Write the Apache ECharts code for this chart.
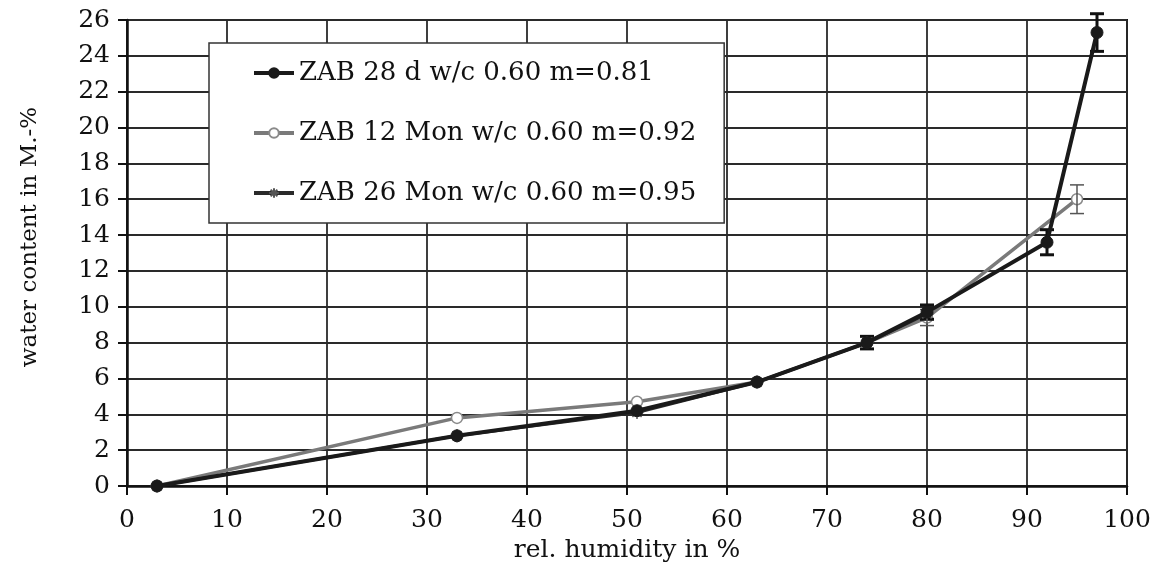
<!DOCTYPE html>
<html>
<head>
<meta charset="utf-8">
<style>
  html, body { margin: 0; padding: 0; background: #fff; }
  #chart { width: 1154px; height: 569px; }
</style>
<script src="https://cdn.jsdelivr.net/npm/echarts@6/dist/echarts.min.js"></script>
</head>
<body>
<div id="chart"></div>
<script>
// Sorption isotherms: relative humidity (%) vs. water content (M.-%)
const seriesNames = [
  'ZAB 28 d w/c 0.60 m=0.81',
  'ZAB 12 Mon w/c 0.60 m=0.92',
  'ZAB 26 Mon w/c 0.60 m=0.95'
];

const rh28d = [3, 33, 51, 63, 74, 80, 92, 97];
const water28d = [0, 2.8, 4.2, 5.8, 8.0, 9.7, 13.6, 25.3];
const err28d = [0, 0, 0, 0, 0.35, 0.4, 0.7, 1.05];

const rh12m = [3, 33, 51, 63, 74, 80, 95];
const water12m = [0, 3.8, 4.7, 5.8, 8.0, 9.4, 16.0];
const err12m = [0, 0, 0, 0, 0, 0.45, 0.8];

const rh26m = [3, 33, 51, 63, 74, 80];
const water26m = [0, 2.8, 4.1, 5.8, 8.0, 9.6];

const xTicks = { min: 0, max: 100, interval: 10 };
const yTicks = { min: 0, max: 26, interval: 2 };

const serif = '"DejaVu Serif", "Liberation Serif", serif';
const asterisk = 'path://M0,-6L0,6M-6,0L6,0M-4.2,-4.2L4.2,4.2M-4.2,4.2L4.2,-4.2';

function pairs(xs, ys) { return xs.map((x, i) => [x, ys[i]]); }
function errRows(xs, ys, es) {
  return xs.map((x, i) => [x, ys[i] - es[i], ys[i] + es[i]]).filter((r, i) => es[i] > 0);
}

function errorBarSeries(rows, color, width, cap) {
  return {
    type: 'custom',
    clip: false,
    silent: true,
    z: 4,
    data: rows,
    encode: { x: 0, y: [1, 2] },
    renderItem: function (params, api) {
      const lo = api.coord([api.value(0), api.value(1)]);
      const hi = api.coord([api.value(0), api.value(2)]);
      const st = { stroke: color, lineWidth: width };
      return {
        type: 'group',
        children: [
          { type: 'line', shape: { x1: lo[0], y1: lo[1], x2: hi[0], y2: hi[1] }, style: st },
          { type: 'line', shape: { x1: lo[0] - cap, y1: lo[1], x2: lo[0] + cap, y2: lo[1] }, style: st },
          { type: 'line', shape: { x1: hi[0] - cap, y1: hi[1], x2: hi[0] + cap, y2: hi[1] }, style: st }
        ]
      };
    }
  };
}

const chart = echarts.init(document.getElementById('chart'), null, { renderer: 'canvas' });

chart.setOption({
  animation: false,
  backgroundColor: '#fff',
  grid: { left: 127, right: 27, top: 20, bottom: 83, containLabel: false,
          show: true, borderColor: '#111', borderWidth: 2 },
  legend: {
    orient: 'vertical',
    left: 209,
    top: 43,
    padding: [17, 28, 17, 43],
    itemGap: 34,
    itemWidth: 40,
    itemHeight: 12,
    backgroundColor: '#fff',
    borderColor: '#333',
    borderWidth: 1.5,
    borderRadius: 0,
    lineStyle: { width: 4 },
    textStyle: { fontFamily: serif, fontSize: 26, color: '#111', lineHeight: 24 },
    data: seriesNames
  },
  xAxis: {
    type: 'value',
    min: xTicks.min, max: xTicks.max, interval: xTicks.interval,
    name: 'rel. humidity in %',
    nameLocation: 'middle',
    nameGap: 52,
    nameTextStyle: { fontFamily: serif, fontSize: 25, color: '#111' },
    axisLine: { show: true, onZero: false, lineStyle: { color: '#111', width: 2.5 } },
    axisTick: { show: true, inside: false, length: 9, lineStyle: { color: '#111', width: 2 } },
    axisLabel: { fontFamily: serif, fontSize: 25, color: '#111', margin: 22 },
    splitLine: { show: true, lineStyle: { color: '#2a2a2a', width: 1.8 } }
  },
  yAxis: {
    type: 'value',
    min: yTicks.min, max: yTicks.max, interval: yTicks.interval,
    name: 'water content in M.-%',
    nameLocation: 'middle',
    nameGap: 85,
    nameRotate: 90,
    nameTextStyle: { fontFamily: serif, fontSize: 23, color: '#111', padding: [0, 0, 0, 32] },
    axisLine: { show: true, onZero: false, lineStyle: { color: '#111', width: 2.5 } },
    axisTick: { show: true, inside: false, length: 9, lineStyle: { color: '#111', width: 2 } },
    axisLabel: { fontFamily: serif, fontSize: 25, color: '#111', margin: 17 },
    splitLine: { show: true, lineStyle: { color: '#2a2a2a', width: 1.8 } }
  },
  series: [
    {
      name: seriesNames[1],
      type: 'line',
      z: 3,
      data: pairs(rh12m, water12m),
      symbol: 'circle',
      symbolSize: 11,
      lineStyle: { color: '#7a7a7a', width: 3.5 },
      itemStyle: { color: '#fff', borderColor: '#8a8a8a', borderWidth: 1.5 }
    },
    {
      name: seriesNames[0],
      type: 'line',
      z: 5,
      data: pairs(rh28d, water28d),
      symbol: 'circle',
      symbolSize: 12,
      lineStyle: { color: '#1a1a1a', width: 4 },
      itemStyle: { color: '#1a1a1a', borderColor: '#1a1a1a', borderWidth: 1 }
    },
    {
      name: seriesNames[2],
      type: 'line',
      z: 4,
      data: pairs(rh26m, water26m),
      symbol: asterisk,
      symbolSize: 13,
      lineStyle: { color: '#2a2a2a', width: 3 },
      itemStyle: { color: 'transparent', borderColor: '#555', borderWidth: 1.5 }
    },
    errorBarSeries(errRows(rh28d, water28d, err28d), '#111', 3, 7),
    errorBarSeries(errRows(rh12m, water12m, err12m), '#555', 1.5, 7)
  ]
});
</script>
</body>
</html>
